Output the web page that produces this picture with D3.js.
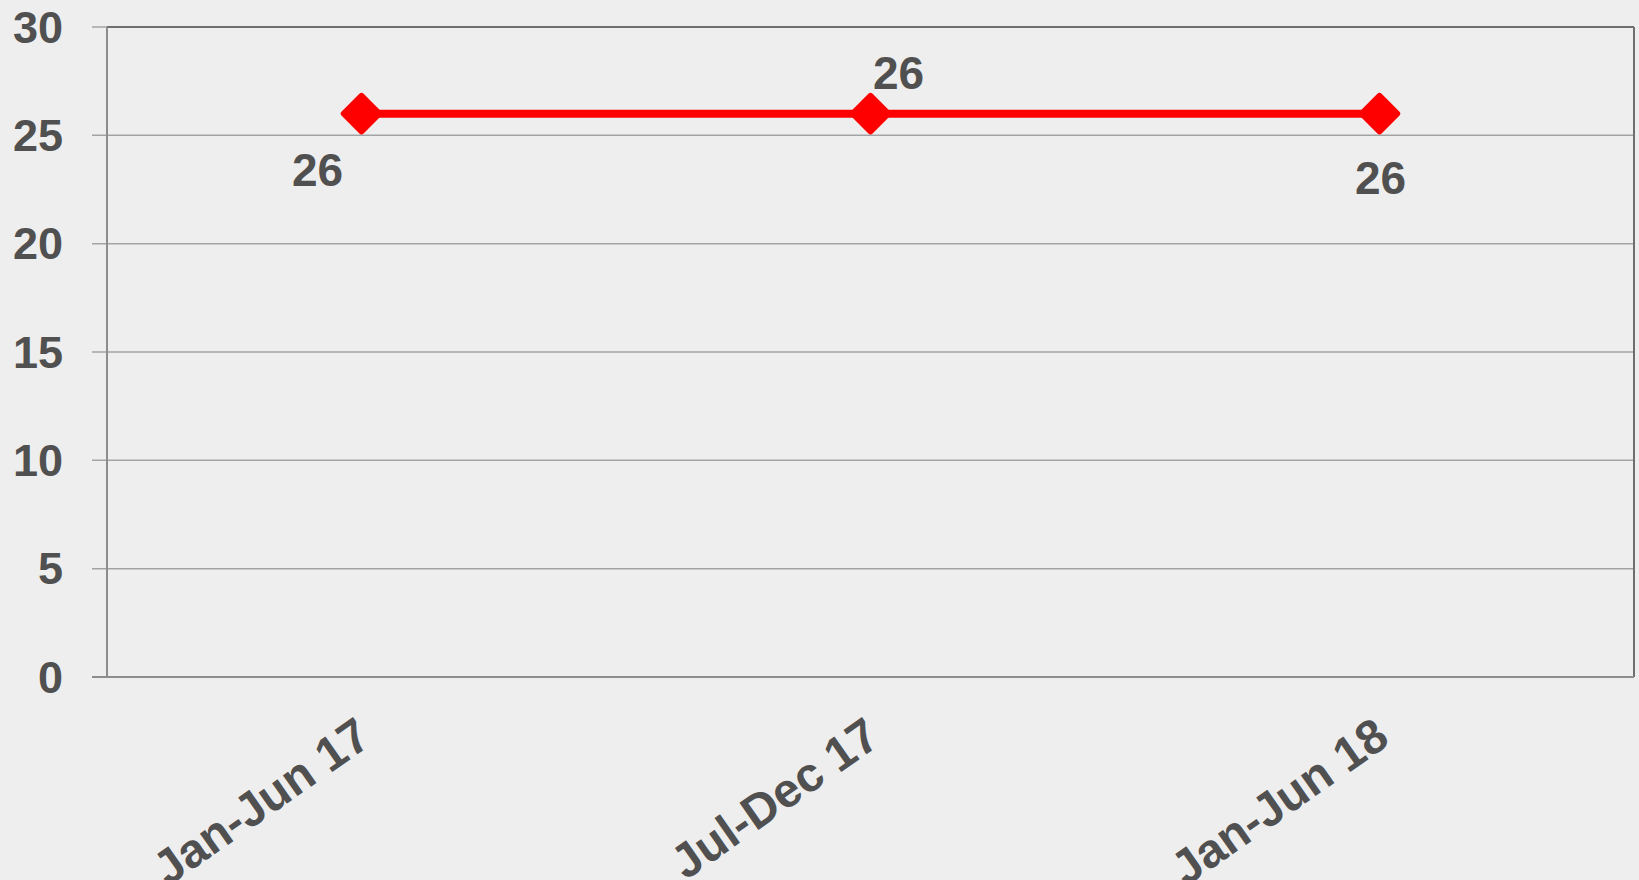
<!DOCTYPE html>
<html>
<head>
<meta charset="utf-8">
<script src="https://cdn.jsdelivr.net/npm/d3@7"></script>
<style>
  html, body { margin: 0; padding: 0; background: #eeeeee; overflow: hidden; }
  svg { display: block; font-family: "Liberation Sans", Arial, sans-serif; }
</style>
</head>
<body>
<svg id="chart" width="1639" height="880"></svg>
<script>
var periods = ["Jan-Jun 17", "Jul-Dec 17", "Jan-Jun 18"];
var values = [26, 26, 26];
var yTicks = [0, 5, 10, 15, 20, 25, 30];
// where each value label sits relative to its point
var labelPlace = ["below-left", "above-right", "below"];

var margin = { top: 27, right: 5, bottom: 203, left: 107 },
  width = 1639 - margin.left - margin.right,
  height = 880 - margin.top - margin.bottom;

var svg = d3.select("#chart");
var g = svg.append("g")
  .attr("transform", "translate(" + margin.left + "," + margin.top + ")");

var x = d3.scaleBand().domain(periods).range([0, width]);
var y = d3.scaleLinear().domain([0, 30]).range([height, 0]);

// gridlines
g.selectAll("line.grid")
  .data(yTicks)
  .enter().append("line")
  .attr("class", "grid")
  .attr("x1", -15)
  .attr("x2", width)
  .attr("y1", function (d) { return y(d); })
  .attr("y2", function (d) { return y(d); })
  .attr("stroke", "#a3a3a3")
  .attr("stroke-width", 1.5);

// frame
g.append("line").attr("x1", 0).attr("x2", width).attr("y1", 0).attr("y2", 0)
  .attr("stroke", "#6e6e6e").attr("stroke-width", 2);
g.append("line").attr("x1", width).attr("x2", width).attr("y1", 0).attr("y2", height)
  .attr("stroke", "#6e6e6e").attr("stroke-width", 2);
g.append("line").attr("x1", 0).attr("x2", 0).attr("y1", 0).attr("y2", height)
  .attr("stroke", "#8c8c8c").attr("stroke-width", 2);
g.append("line").attr("x1", -15).attr("x2", width).attr("y1", height).attr("y2", height)
  .attr("stroke", "#8c8c8c").attr("stroke-width", 2);

// y tick labels
g.selectAll("text.ytick")
  .data(yTicks)
  .enter().append("text")
  .attr("class", "ytick")
  .attr("x", -44)
  .attr("y", function (d) { return y(d); })
  .attr("dy", "0.35em")
  .attr("text-anchor", "end")
  .attr("font-size", 45)
  .attr("font-weight", "bold")
  .attr("fill", "#505050")
  .text(function (d) { return d; });

// x tick labels, rotated
g.selectAll("text.xtick")
  .data(periods)
  .enter().append("text")
  .attr("class", "xtick")
  .attr("transform", function (d) {
    return "translate(" + (x(d) + x.bandwidth() / 2 + 12) + "," + (height + 66) + ") rotate(-35)";
  })
  .attr("text-anchor", "end")
  .attr("font-size", 48)
  .attr("font-weight", "bold")
  .attr("fill", "#505050")
  .text(function (d) { return d; });

// line
var line = d3.line()
  .x(function (d, i) { return x(periods[i]) + x.bandwidth() / 2; })
  .y(function (d) { return y(d); });

g.append("path")
  .datum(values)
  .attr("d", line)
  .attr("fill", "none")
  .attr("stroke", "#ff0000")
  .attr("stroke-width", 8);

// diamond markers
g.selectAll("rect.marker")
  .data(values)
  .enter().append("rect")
  .attr("class", "marker")
  .attr("x", -15.5)
  .attr("y", -15.5)
  .attr("width", 31)
  .attr("height", 31)
  .attr("rx", 3)
  .attr("fill", "#ff0000")
  .attr("transform", function (d, i) {
    return "translate(" + (x(periods[i]) + x.bandwidth() / 2) + "," + y(d) + ") rotate(45)";
  });

// value labels
var offsets = {
  "below-left": [-44, 72],
  "above-right": [28, -25],
  "below": [1, 80]
};
g.selectAll("text.value")
  .data(values)
  .enter().append("text")
  .attr("class", "value")
  .attr("x", function (d, i) { return x(periods[i]) + x.bandwidth() / 2 + offsets[labelPlace[i]][0]; })
  .attr("y", function (d, i) { return y(d) + offsets[labelPlace[i]][1]; })
  .attr("text-anchor", "middle")
  .attr("font-size", 46)
  .attr("font-weight", "bold")
  .attr("fill", "#505050")
  .text(function (d) { return d; });
</script>
</body>
</html>
